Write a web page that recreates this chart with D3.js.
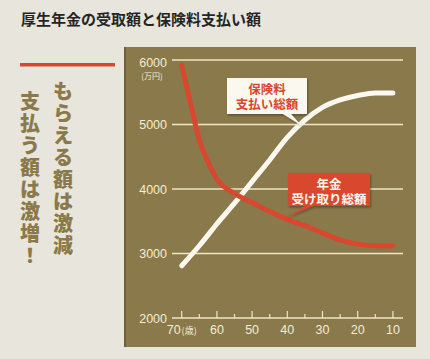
<!DOCTYPE html>
<html><head><meta charset="utf-8">
<script src="https://cdn.jsdelivr.net/npm/d3@7"></script>
<style>
html,body{margin:0;padding:0;background:#e8e5dc;}
svg{display:block;}
</style></head>
<body>
<script>
// ---- data ----
const title = "厚生年金の受取額と保険料支払い額";
const headlineRight = "もらえる額は激減";
const headlineLeft = "支払う額は激増！";
const yTicks = [2000, 3000, 4000, 5000, 6000];
const yUnit = "(万円)";
const xTicks = [70, 60, 50, 40, 30, 20, 10];
const xMinorTicks = [65, 55, 45, 35, 25, 15];
const xUnit = "(歳)";
const premiumAges = [70, 65, 60, 55, 50, 45, 40, 35, 30, 25, 20, 15, 10];
const premiumTotal = [2810, 3120, 3460, 3780, 4115, 4450, 4800, 5070, 5265, 5380, 5450, 5490, 5490];
const pensionAges = [70, 67.5, 65, 62.5, 60, 55, 50, 45, 40, 35, 30, 25, 20, 15, 10];
const pensionTotal = [5920, 5330, 4760, 4420, 4155, 3930, 3790, 3650, 3530, 3430, 3320, 3210, 3145, 3120, 3115];
const premiumLabel = ["保険料", "支払い総額"];
const pensionLabel = ["年金", "受け取り総額"];

const W = 430, H = 359;
const OLIVE = "#8a7a4b", CREAM = "#efe6c4", RED = "#d8472e", WHITE = "#fbf8ef";
const JP = "'Noto Sans CJK JP','Noto Sans',sans-serif";

const svg = d3.select("body").append("svg").attr("width", W).attr("height", H);
const defs = svg.append("defs");
const f = defs.append("filter").attr("id", "sh").attr("x", "-20%").attr("y", "-20%").attr("width", "140%").attr("height", "150%");
f.append("feDropShadow").attr("dx", 1).attr("dy", 1.5).attr("stdDeviation", 1.2).attr("flood-color", "#000").attr("flood-opacity", 0.35);

// background
svg.append("rect").attr("width", W).attr("height", H).attr("fill", "#e8e5dc");

// title
svg.append("text").attr("x", 21).attr("y", 25).attr("font-family", JP).attr("font-weight", 700)
  .attr("font-size", 15).attr("fill", "#252525").text(title);

// red bar
svg.append("rect").attr("x", 20).attr("y", 63).attr("width", 95).attr("height", 3.5).attr("fill", RED);

// vertical headlines (one glyph per row)
function vText(str, cx, top, step) {
  const g = svg.append("g");
  Array.from(str).forEach((ch, i) => {
    g.append("text").attr("x", cx).attr("y", top + step * i + step * 0.82)
      .attr("text-anchor", "middle").attr("font-family", JP).attr("font-weight", 900)
      .attr("font-size", 20).attr("fill", OLIVE).text(ch);
  });
}
vText(headlineRight, 63, 81, 22);
vText(headlineLeft, 30, 91, 22);

// panel
svg.append("rect").attr("x", 124).attr("y", 47).attr("width", 292).attr("height", 300).attr("fill", OLIVE);
svg.append("rect").attr("x", 124).attr("y", 47).attr("width", 2).attr("height", 300).attr("fill", "#6e6036");

const x = d3.scaleLinear().domain([70, 10]).range([181.7, 392.9]);
const y = d3.scaleLinear().domain([2000, 6000]).range([318, 60]);
const gx0 = 172, gx1 = 403;

// gridlines
svg.append("g").selectAll("line").data(yTicks.filter(d => d > 2000)).join("line")
  .attr("x1", gx0).attr("x2", gx1).attr("y1", d => y(d)).attr("y2", d => y(d))
  .attr("stroke", CREAM).attr("stroke-width", 1.3);

// y labels
svg.append("g").selectAll("text").data(yTicks).join("text")
  .attr("x", 167).attr("y", d => y(d) + (d === 6000 ? 2 : 0)).attr("dy", "0.36em").attr("text-anchor", "end")
  .attr("font-family", "'Liberation Sans',Arial,sans-serif").attr("font-size", 12.5).attr("fill", "#f4ecd4").text(d => d);
svg.append("text").attr("x", 152).attr("y", 79).attr("text-anchor", "middle").attr("font-family", JP)
  .attr("font-size", 8).attr("fill", "#f4ecd4").text(yUnit);

// x axis
svg.append("line").attr("x1", gx0).attr("x2", gx1).attr("y1", y(2000)).attr("y2", y(2000))
  .attr("stroke", CREAM).attr("stroke-width", 1.3);
svg.append("g").selectAll("line").data(xTicks).join("line")
  .attr("x1", d => x(d)).attr("x2", d => x(d)).attr("y1", y(2000)).attr("y2", y(2000) - 7)
  .attr("stroke", CREAM).attr("stroke-width", 1.2);
svg.append("g").selectAll("line").data(xMinorTicks).join("line")
  .attr("x1", d => x(d)).attr("x2", d => x(d)).attr("y1", y(2000)).attr("y2", y(2000) - 4)
  .attr("stroke", CREAM).attr("stroke-width", 1.2);
const xl = svg.append("g").selectAll("text").data(xTicks).join("text")
  .attr("x", d => x(d)).attr("y", 334).attr("text-anchor", "middle")
  .attr("font-family", "'Liberation Sans',Arial,sans-serif").attr("font-size", 12.5).attr("fill", "#f4ecd4");
xl.append("tspan").text(d => d);
xl.filter(d => d === 70).append("tspan").attr("font-family", JP).attr("font-size", 9).attr("dx", 1).text(xUnit);

// lines
const line = d3.line().curve(d3.curveMonotoneX);
svg.append("path").attr("d", line(premiumAges.map((a, i) => [x(a), y(premiumTotal[i])])))
  .attr("fill", "none").attr("stroke", WHITE).attr("stroke-width", 5).attr("stroke-linecap", "round");
svg.append("path").attr("d", line(pensionAges.map((a, i) => [x(a), y(pensionTotal[i])])))
  .attr("fill", "none").attr("stroke", RED).attr("stroke-width", 5).attr("stroke-linecap", "round");

// callouts
function callout(bx, by, bw, bh, t1x, t2x, tip, fill, txtColor, lines) {
  const g = svg.append("g").attr("filter", "url(#sh)");
  const p = d3.path();
  p.moveTo(bx, by); p.lineTo(bx + bw, by); p.lineTo(bx + bw, by + bh);
  p.lineTo(t2x, by + bh); p.lineTo(tip[0], tip[1]); p.lineTo(t1x, by + bh);
  p.lineTo(bx, by + bh); p.closePath();
  g.append("path").attr("d", p.toString()).attr("fill", fill);
  lines.forEach((s, i) => {
    svg.append("text").attr("x", bx + bw / 2).attr("y", by + 16 + i * 14.5).attr("text-anchor", "middle")
      .attr("font-family", JP).attr("font-weight", 700).attr("font-size", 12.5).attr("fill", txtColor).text(s);
  });
}
callout(227, 78, 80, 36, 283, 291, [x(36), y(5000) + 1], WHITE, RED, premiumLabel);
callout(288, 173, 82, 33, 305, 313, [x(40.5), y(3560)], RED, WHITE, pensionLabel);
</script>
</body></html>
